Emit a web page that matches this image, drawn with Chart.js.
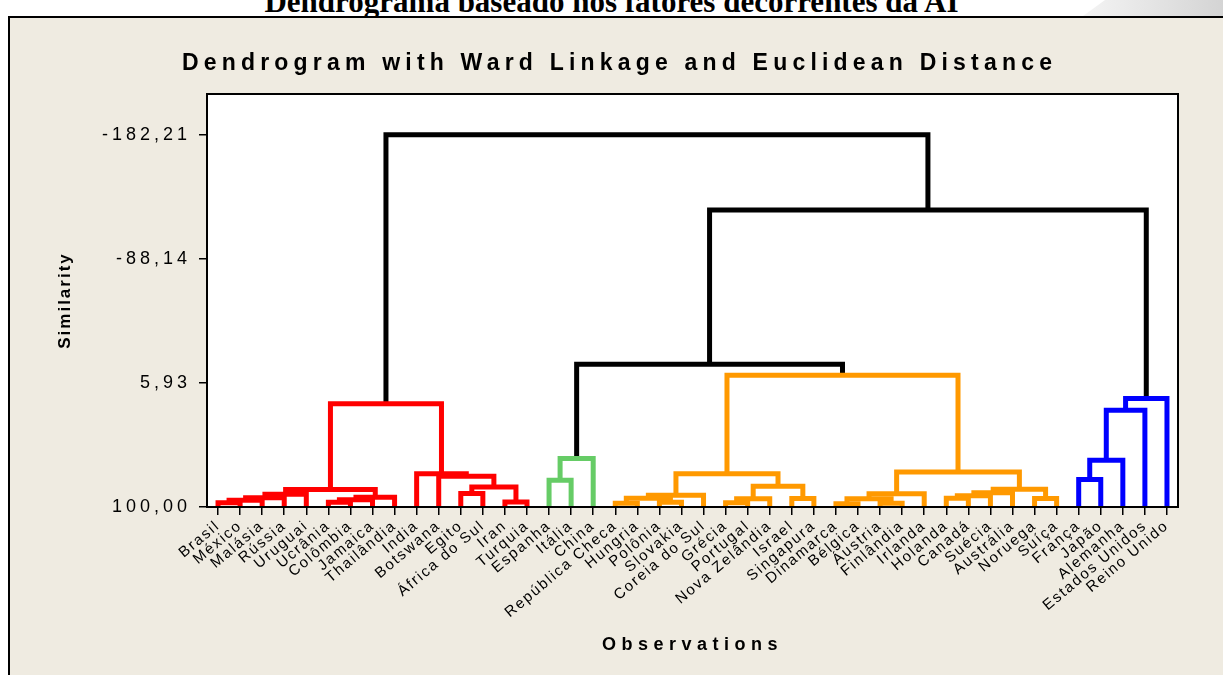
<!DOCTYPE html>
<html>
<head>
<meta charset="utf-8">
<script src="https://cdn.jsdelivr.net/npm/chart.js@4/dist/chart.umd.min.js"></script>
<style>
  html, body { margin: 0; padding: 0; background: #fff; }
  body { width: 1223px; height: 675px; position: relative; overflow: hidden; }
  #heading { position: absolute; left: 0; width: 1223px; top: -15.5px; text-align: center; font: bold 31px/34px 'Liberation Serif', serif; color: #000; white-space: nowrap; }
  #tab { position: absolute; right: 0; top: 0; width: 140px; height: 16px; background: linear-gradient(to right, #f4f4f4, #d4d4d4); clip-path: polygon(22px 0, 100% 0, 100% 100%, 0 100%); }
  #frame { position: absolute; left: 8px; top: 16px; right: 0; bottom: 0; background: #efebe1; border-left: 2px solid #000; border-top: 2px solid #000; }
  #chart { position: absolute; left: 0; top: 0; }
</style>
</head>
<body>
<div id="heading">Dendrograma baseado nos fatores decorrentes da AI</div>
<div id="tab"></div>
<div id="frame"></div>
<canvas id="chart" width="1223" height="675"></canvas>
<script>
const chartTitle = 'Dendrogram with Ward Linkage and Euclidean Distance';
const xTitle = 'Observations';
const yTitle = 'Similarity';

const observations = [
  'Brasil', 'México', 'Malásia', 'Rússia', 'Uruguai', 'Ucrânia', 'Colômbia', 'Jamaica', 'Thailândia',
  'India', 'Botswana', 'Egito', 'África do Sul', 'Iran', 'Turquia',
  'Espanha', 'Itália', 'China',
  'República Checa', 'Hungria', 'Polônia', 'Slovakia', 'Coreia do Sul', 'Grécia', 'Portugal',
  'Nova Zelândia', 'Israel', 'Singapura', 'Dinamarca', 'Bélgica', 'Áustria', 'Finlândia', 'Irlanda',
  'Holanda', 'Canadá', 'Suécia', 'Austrália', 'Noruega', 'Suíça',
  'França', 'Japão', 'Alemanha', 'Estados Unidos', 'Reino Unido'
];

// final cluster of each observation (0 red, 1 green, 2 orange, 3 blue)
const leafCluster = [
  0, 0, 0, 0, 0, 0, 0, 0, 0, 0, 0, 0, 0, 0, 0,
  1, 1, 1,
  2, 2, 2, 2, 2, 2, 2, 2, 2, 2, 2, 2, 2, 2, 2, 2, 2, 2, 2, 2, 2,
  3, 3, 3, 3, 3
];

// [left node, right node, similarity]; nodes 0-43 are observations, 44+ are earlier merges
const linkage = [
  [0, 1, 96.8], [44, 2, 94.9], [45, 3, 93.0], [46, 4, 90.4],
  [5, 6, 96.4], [48, 7, 94.5], [49, 8, 92.6], [47, 50, 86.8],
  [11, 12, 89.8], [13, 14, 96.2], [52, 53, 84.8], [10, 54, 76.7], [9, 55, 74.7],
  [51, 56, 21.7],
  [15, 16, 79.7], [58, 17, 63.3],
  [18, 19, 97.2], [20, 21, 96.4], [60, 61, 93.4], [62, 22, 91.1],
  [23, 24, 96.8], [64, 25, 93.8], [26, 27, 93.6], [65, 66, 84.3], [63, 67, 74.8],
  [28, 29, 97.6], [30, 31, 97.2], [69, 70, 93.8], [71, 32, 90.0],
  [33, 34, 93.4], [73, 35, 91.5], [74, 36, 89.2], [37, 38, 93.6], [75, 76, 86.6],
  [72, 77, 73.4], [68, 78, 0.1],
  [39, 40, 79.2], [80, 41, 64.6], [81, 42, 26.6], [82, 43, 17.8],
  [59, 79, -8.3], [84, 83, -125.1], [57, 85, -182.21]
];

const yTicks = [-182.21, -88.14, 5.93, 100];
const yLabels = yTicks.map(v => v.toFixed(2).replace('.', ','));

const clusterColors = ['#ff0000', '#66cc66', '#ff9900', '#0000ff'];

const nodeX = observations.map((_, i) => i);
const nodeY = observations.map(() => 100);
const nodeCluster = leafCluster.slice();

const datasets = linkage.map(([a, b, s]) => {
  const c = nodeCluster[a] === nodeCluster[b] ? nodeCluster[a] : -1;
  const pts = [
    { x: nodeX[a], y: nodeY[a] }, { x: nodeX[a], y: s },
    { x: nodeX[b], y: s }, { x: nodeX[b], y: nodeY[b] }
  ];
  nodeX.push((nodeX[a] + nodeX[b]) / 2);
  nodeY.push(s);
  nodeCluster.push(c);
  return {
    data: pts, showLine: true, borderColor: c < 0 ? '#000000' : clusterColors[c],
    borderWidth: 5, pointRadius: 0, tension: 0, borderJoinStyle: 'miter', borderCapStyle: 'butt'
  };
});

const spacingFor = (t) => {
  if (t === chartTitle) return '5.2px';
  if (t === xTitle) return '5.5px';
  if (t === yTitle) return '2px';
  if (yLabels.includes(t)) return '4px';
  return '1.8px';
};

const plotFrame = {
  id: 'plotFrame',
  beforeInit(chart) {
    const ctx = chart.ctx;
    const fill = ctx.fillText;
    ctx.fillText = function (text) {
      this.letterSpacing = spacingFor(text);
      fill.apply(this, arguments);
      this.letterSpacing = '0px';
    };
  },
  beforeDraw(chart) {
    const { ctx, chartArea: a } = chart;
    ctx.save();
    ctx.fillStyle = '#ffffff';
    ctx.fillRect(a.left, a.top, a.right - a.left, a.bottom - a.top);
    ctx.restore();
  },
  afterDraw(chart) {
    const { ctx, chartArea: a } = chart;
    ctx.save();
    ctx.strokeStyle = '#000';
    ctx.lineWidth = 2;
    ctx.strokeRect(a.left, a.top, a.right - a.left, a.bottom - a.top);
    ctx.restore();
  }
};

const font = (size, weight) => ({ family: "'Liberation Sans', Arial, sans-serif", size, weight });

new Chart(document.getElementById('chart').getContext('2d'), {
  type: 'scatter',
  data: { datasets },
  plugins: [plotFrame],
  options: {
    responsive: false, animation: false, devicePixelRatio: 1,
    layout: { padding: { top: 0, left: 16, right: 0, bottom: 0 } },
    plugins: {
      legend: { display: false }, tooltip: { enabled: false },
      title: {
        display: true, text: chartTitle, color: '#000', font: font(23, 'bold'),
        padding: { top: 50.2, bottom: 16.2 }
      }
    },
    scales: {
      x: {
        type: 'linear', min: -0.5, max: 43.5,
        afterFit: (s) => { s.height = 168; },
        afterBuildTicks: (s) => { s.ticks = observations.map((_, i) => ({ value: i })); },
        ticks: {
          autoSkip: false, minRotation: 40, maxRotation: 40, padding: 2, color: '#000',
          font: font(15), callback: (v) => observations[v]
        },
        grid: { drawOnChartArea: false, drawTicks: true, tickLength: 8, color: '#000', lineWidth: 1.5 },
        border: { display: true, color: '#000', width: 2 },
        title: {
          display: true, text: xTitle, color: '#000', font: font(18, 'bold'),
          padding: { top: 0, bottom: 19.2 }
        }
      },
      y: {
        reverse: true, min: -213.1, max: 100,
        afterFit: (s) => { s.width = 191; },
        afterBuildTicks: (s) => { s.ticks = yTicks.map(v => ({ value: v })); },
        ticks: {
          padding: 8, color: '#000', font: font(18),
          callback: (v) => v.toFixed(2).replace('.', ',')
        },
        grid: { drawOnChartArea: false, drawTicks: true, tickLength: 8, color: '#000', lineWidth: 1.5 },
        border: { display: true, color: '#000', width: 2 },
        title: {
          display: true, text: yTitle, color: '#000', font: font(17, 'bold'),
          padding: { top: 38.8, bottom: 0 }
        }
      },
      // empty right-hand strip so the plot ends where the reference's does
      yRight: {
        position: 'right', display: true,
        afterFit: (s) => { s.width = 45; },
        ticks: { display: false }, grid: { display: false }, border: { display: false }
      }
    }
  }
});
</script>
</body>
</html>
